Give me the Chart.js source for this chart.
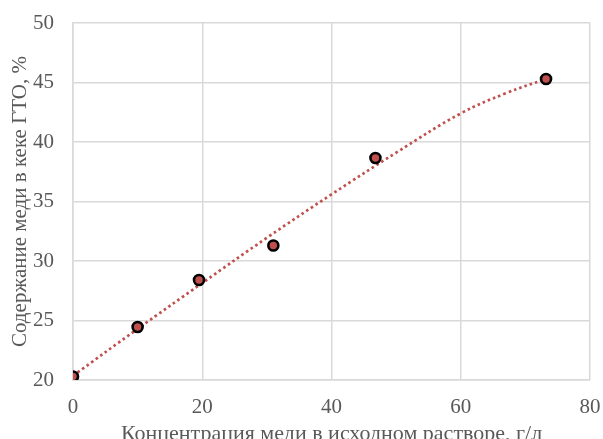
<!DOCTYPE html>
<html>
<head>
<meta charset="utf-8">
<script src="https://cdn.jsdelivr.net/npm/chart.js@4"></script>
<style>
  html, body { margin: 0; padding: 0; background: #fff; }
  canvas { display: block; }
</style>
</head>
<body>
<canvas id="chart" width="603" height="439"></canvas>
<script>
// измеренные точки
const concentration = [0, 10, 19.5, 31, 46.8, 73.2];
const content = [20.3, 24.45, 28.4, 31.3, 38.65, 45.3];

// линия тренда
const trendX = [0, 10, 20, 30, 40, 50, 60, 67, 73.2];
const trendY = [20.35, 24.3, 28.15, 31.95, 35.6, 39.1, 42.4, 44.1, 45.3];

const xTicks = [0, 20, 40, 60, 80];
const yTicks = [20, 25, 30, 35, 40, 45, 50];

const gridColor = '#d9d9d9';
const textColor = '#595959';
const serif = "'Times New Roman', 'Liberation Serif', serif";

// убрать автоматические отступы под подписи
function noPad(s) {
    s.paddingTop = 0;
    s.paddingBottom = 0;
    s.paddingLeft = 0;
    s.paddingRight = 0;
}

const ctx = document.getElementById('chart').getContext('2d');
new Chart(ctx, {
    type: 'scatter',
    data: {
        datasets: [{
            label: 'Данные',
            data: concentration.map((x, i) => ({ x: x, y: content[i] })),
            backgroundColor: '#c0504d',
            borderColor: '#000000',
            borderWidth: 2.6,
            pointRadius: 5,
            showLine: false
        }, {
            label: 'Тренд',
            data: trendX.map((x, i) => ({ x: x, y: trendY[i] })),
            showLine: true,
            borderColor: '#c0504d',
            borderWidth: 2.7,
            borderDash: [2.6, 3],
            pointRadius: 0,
            tension: 0.4
        }]
    },
    options: {
        responsive: false,
        animation: false,
        layout: { padding: { top: 23, right: 13, left: 0, bottom: 0 } },
        plugins: { legend: { display: false }, tooltip: { enabled: false } },
        scales: {
            x: {
                type: 'linear',
                min: 0,
                max: 80,
                afterBuildTicks: s => { s.ticks = xTicks.map(v => ({ value: v })); },
                afterFit: s => { s.height = 59; noPad(s); },
                grid: { color: gridColor, lineWidth: 1.5, drawTicks: false },
                border: { color: gridColor, width: 1.5 },
                ticks: { color: textColor, font: { family: serif, size: 21 }, padding: 15 },
                title: {
                    display: true,
                    text: 'Концентрация меди в исходном растворе, г/л',
                    color: textColor,
                    font: { family: serif, size: 22 },
                    padding: { top: 0, bottom: -8 }
                }
            },
            y: {
                min: 20,
                max: 50,
                afterBuildTicks: s => { s.ticks = yTicks.map(v => ({ value: v })); },
                afterFit: s => { s.width = 73; noPad(s); },
                grid: { color: gridColor, lineWidth: 1.5, drawTicks: false },
                border: { color: gridColor, width: 1.5 },
                ticks: { color: textColor, font: { family: serif, size: 21 }, padding: 19 },
                title: {
                    display: true,
                    text: 'Содержание меди в кеке ГТО, %',
                    color: textColor,
                    font: { family: serif, size: 21 },
                    padding: { top: 8, bottom: 0 }
                }
            }
        }
    }
});
</script>
</body>
</html>
